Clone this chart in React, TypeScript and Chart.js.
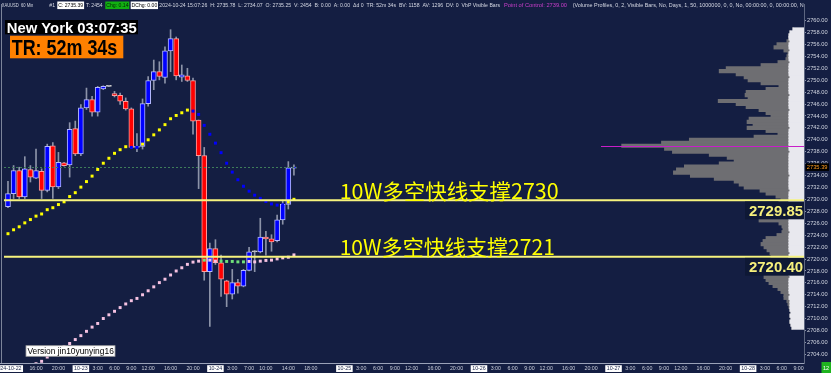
import { useEffect, useRef } from 'react';
import { Chart, registerables } from 'chart.js';

Chart.register(...registerables);

// XAUUSD 60-min candles (bar slot 0 = 2024-10-22 11:00)
const OPEN = [
  2728.77, 2730.98, 2734.85, 2730.43, 2735.02, 2733.58, 2734.69, 2731.53, 2739.0, 2732.09,
  2736.12, 2735.79, 2741.87, 2737.61, 2745.35, 2746.74, 2744.64, 2748.51, 2748.95, 2747.73,
  2747.45, 2746.46, 2745.19, 2738.72, 2738.89, 2746.07, 2749.94, 2751.43, 2750.44, 2754.92,
  2756.96, 2750.5, 2750.72, 2749.94, 2743.31, 2737.34, 2717.88, 2721.75, 2719.38, 2716.34,
  2714.12, 2716.06, 2715.45, 2718.1, 2721.2, 2721.2, 2723.69, 2723.41, 2723.08, 2726.56,
  2729.16, 2735.25,
];
const HIGH = [
  2733.03, 2735.68, 2735.4, 2737.17, 2735.68, 2738.44, 2735.13, 2739.27, 2739.55, 2737.89,
  2736.23, 2742.87, 2743.14, 2745.91, 2748.67, 2747.29, 2748.95, 2749.06, 2749.0, 2748.12,
  2747.84, 2747.02, 2745.35, 2741.04, 2746.85, 2750.61, 2753.37, 2753.09, 2755.58, 2758.46,
  2757.24, 2752.54, 2751.99, 2750.33, 2743.31, 2738.72, 2722.69, 2723.25, 2720.65, 2716.45,
  2718.27, 2716.61, 2718.27, 2721.97, 2721.42, 2726.84, 2724.63, 2724.08, 2727.39, 2729.88,
  2736.34, 2735.78,
];
const LOW = [
  2728.6, 2730.15, 2730.15, 2730.15, 2732.92, 2733.47, 2730.15, 2731.26, 2730.15, 2731.81,
  2735.57, 2733.75, 2737.34, 2737.34, 2745.08, 2743.97, 2743.97, 2748.4, 2748.9, 2747.18,
  2745.91, 2744.97, 2738.55, 2738.0, 2738.44, 2745.63, 2748.4, 2750.05, 2749.5, 2751.43,
  2750.05, 2749.78, 2749.78, 2740.93, 2731.81, 2716.45, 2708.71, 2719.1, 2713.74, 2712.02,
  2713.3, 2714.29, 2715.34, 2717.99, 2717.88, 2721.04, 2720.65, 2721.31, 2722.86, 2725.84,
  2728.39, 2734.07,
];
const CLOSE = [
  2730.98, 2734.85, 2730.43, 2735.13, 2733.75, 2734.85, 2731.53, 2738.89, 2732.09, 2736.23,
  2735.68, 2741.76, 2737.61, 2745.35, 2746.74, 2744.64, 2748.78, 2748.95, 2748.95, 2747.4,
  2746.46, 2745.19, 2738.72, 2738.89, 2746.07, 2749.94, 2751.43, 2750.61, 2754.92, 2756.96,
  2750.72, 2750.88, 2749.94, 2743.14, 2737.34, 2717.88, 2721.75, 2719.38, 2716.61, 2714.12,
  2716.06, 2715.45, 2718.1, 2721.2, 2721.2, 2723.69, 2723.36, 2722.86, 2726.56, 2729.16,
  2735.3, 2735.39,
];

// fast trailing line (one dot per bar); direction 1 = long, -1 = short
const FAST_LINE = [
  2724.25, 2724.91, 2725.41, 2726.07, 2726.62, 2727.2, 2727.56, 2728.28, 2728.61, 2729.14,
  2729.6, 2730.48, 2731.13, 2732.06, 2732.99, 2733.91, 2735.02, 2736.07, 2736.9, 2737.73,
  2738.34, 2738.84, 2738.72, 2738.72, 2739.27, 2740.0, 2740.83, 2741.66, 2742.54, 2743.53,
  2744.08, 2744.53, 2744.98, 2744.81, 2744.25, 2742.42, 2740.93, 2739.44, 2737.84, 2736.07,
  2734.58, 2733.3, 2732.21, 2731.38, 2730.71, 2730.18, 2729.65, 2729.24, 2729.05, 2729.1,
  2729.55, 2730.02,
];
const FAST_DIR = [
  1, 1, 1, 1, 1, 1, 1, 1, 1, 1,
  1, 1, 1, 1, 1, 1, 1, 1, 1, 1,
  1, 1, -1, -1, 1, 1, 1, 1, 1, 1,
  1, 1, 1, -1, -1, -1, -1, -1, -1, -1,
  -1, -1, -1, -1, -1, -1, -1, -1, -1, -1,
  1, 1,
];

// slow line (first bars sit below the visible range); state 1 = pink, 0 = green
const SLOW_LINE = [
  null, null, null, null, null, 2702.45, 2702.85, 2703.57, 2704.18, 2704.76,
  2705.31, 2705.84, 2706.5, 2707.16, 2707.88, 2708.59, 2709.2, 2710.03, 2710.65, 2711.24,
  2711.86, 2712.47, 2713.02, 2713.4, 2714.01, 2714.68, 2715.34, 2716.05, 2716.62, 2717.33,
  2718.0, 2718.54, 2719.11, 2719.49, 2719.65, 2719.82, 2719.82, 2719.65, 2719.65, 2719.6,
  2719.6, 2719.53, 2719.53, 2719.6, 2719.53, 2719.65, 2719.77, 2719.82, 2720.03, 2720.2,
  2720.31, 2720.7,
];
const SLOW_STATE = [
  1, 1, 1, 1, 1, 1, 1, 1, 1, 1,
  1, 1, 1, 1, 1, 1, 1, 1, 1, 1,
  1, 1, 1, 1, 1, 1, 1, 1, 1, 1,
  1, 1, 1, 1, 1, 0, 1, 1, 0, 0,
  0, 0, 0, 1, 1, 1, 1, 1, 1, 1,
  1, 1,
];

const SUPPORT_LEVELS = [2729.85, 2720.4];
const SUPPORT_TEXT = ['10W多空快线支撑2730', '10W多空快线支撑2721'];
const POC_PRICE = 2739.0;

const Y_TICKS = [
  2704, 2706, 2708, 2710, 2712, 2714, 2716, 2718, 2720, 2722, 2724, 2726, 2728, 2730, 2732,
  2734, 2736, 2738, 2740, 2742, 2744, 2746, 2748, 2750, 2752, 2754, 2756, 2758, 2760,
];
const X_TICK_SLOTS = [
  0, 5, 9, 13, 16, 19, 22, 25, 29, 33,
  37, 40, 43, 46, 50, 54,
  60, 63, 66, 69, 72, 76, 80,
  84, 87, 90, 93, 96, 100, 104,
  108, 111, 114, 117, 120, 124, 128,
  132, 135, 138, 141,
];
const X_TICK_TEXT = [
  '2024-10-22', '16:00', '20:00', '10-23', '3:00', '6:00', '9:00', '12:00', '16:00', '20:00',
  '10-24', '3:00', '7:00', '10:00', '14:00', '18:00',
  '10-25', '3:00', '6:00', '9:00', '12:00', '16:00', '20:00',
  '10-26', '3:00', '6:00', '9:00', '12:00', '16:00', '20:00',
  '10-27', '3:00', '6:00', '9:00', '12:00', '16:00', '20:00',
  '10-28', '3:00', '6:00', '9:00',
];

// volume-by-price rows (0.5 steps), top to bottom
const VP_LEVELS = [
  2758.5, 2758, 2757.5, 2757, 2756.5, 2756, 2755.5, 2755, 2754.5, 2754,
  2753.5, 2753, 2752.5, 2752, 2751.5, 2751, 2750.5, 2750, 2749.5, 2749,
  2748.5, 2748, 2747.5, 2747, 2746.5, 2746, 2745.5, 2745, 2744.5, 2744,
  2743.5, 2743, 2742.5, 2742, 2741.5, 2741, 2740.5, 2740, 2739.5, 2739,
  2738.5, 2738, 2737.5, 2737, 2736.5, 2736, 2735.5, 2735, 2734.5, 2734,
  2733.5, 2733, 2732.5, 2732, 2731.5, 2731, 2730.5, 2730, 2729.5, 2729,
  2728.5, 2728, 2727.5, 2727, 2726.5, 2726, 2725.5, 2725, 2724.5, 2724,
  2723.5, 2723, 2722.5, 2722, 2721.5, 2721, 2720.5, 2720, 2719.5, 2719,
  2718.5, 2718, 2717.5, 2717, 2716.5, 2716, 2715.5, 2715, 2714.5, 2714,
  2713.5, 2713, 2712.5, 2712, 2711.5, 2711, 2710.5, 2710, 2709.5, 2709,
  2708.5,
];
const VP_VOLUME = [
  0, 0, 0, 0, 3, 12, 15, 6, 1, 2,
  3, 12, 28, 63, 70, 53, 46, 41, 28, 10,
  23, 43, 45, 41, 71, 53, 43, 31, 23, 18,
  40, 42, 36, 43, 23, 11, 35, 100, 128, 168,
  125, 118, 80, 62, 55, 70, 105, 113, 116, 100,
  75, 55, 50, 45, 30, 23, 13, 8, 10, 12,
  6, 3, 7, 13, 30, 10, 7, 6, 8, 12,
  23, 26, 28, 25, 22, 20, 18, 13, 16, 18,
  20, 22, 24, 26, 23, 20, 16, 11, 8, 6,
  5, 3, 2, 1, 0, 0, 0, 0, 0, 0,
  0,
];
const VP_SESSION = [
  11, 14, 15, 15, 14, 15, 15, 14, 15, 15,
  15, 14, 15, 15, 15, 15, 14, 15, 15, 15,
  15, 15, 14, 15, 15, 15, 15, 14, 15, 15,
  15, 15, 15, 14, 15, 15, 15, 15, 15, 15,
  15, 14, 15, 15, 15, 15, 15, 15, 15, 14,
  15, 15, 15, 15, 14, 15, 15, 15, 15, 15,
  15, 15, 14, 15, 15, 15, 15, 15, 14, 15,
  15, 15, 15, 15, 15, 14, 15, 15, 15, 15,
  15, 15, 15, 14, 15, 15, 15, 15, 15, 14,
  15, 14, 14, 14, 14, 13, 14, 13, 14, 13,
  12,
];
const VP_AXIS_MAX = 804;
const POC_REACH = 204;

const X_MIN = -0.71;
const X_MAX = 141.97;
const Y_MIN = 2702.57;
const Y_MAX = 2762.77;

const BG = '#141e42';
const FONT = '"Liberation Sans", Arial, sans-serif';

function fitText(
  ctx: CanvasRenderingContext2D,
  text: string,
  x: number,
  y: number,
  w: number,
  font: string,
  color: string,
  align: 'left' | 'right' = 'left'
) {
  ctx.save();
  ctx.font = font;
  ctx.textAlign = 'left';
  ctx.textBaseline = 'alphabetic';
  const m = ctx.measureText(text).width || 1;
  const x0 = align === 'left' ? x : x - w;
  ctx.translate(x0, y);
  ctx.scale(w / m, 1);
  ctx.fillStyle = color;
  ctx.fillText(text, 0, 0);
  ctx.restore();
}

const INFO_SEGMENTS = [
  { x: 1.7, w: 31.6, text: 'XAUUSD  60 Min', color: '#d6d9e4' },
  { x: 49.3, w: 5.7, text: '#1', color: '#d6d9e4' },
  { x: 58.3, w: 24.8, text: 'C: 2735.39', color: '#000000', box: '#ffffff', bx: 57.3, bw: 26.8 },
  { x: 86, w: 16.7, text: 'T: 2454', color: '#d6d9e4' },
  { x: 106.2, w: 22.4, text: 'Chg: 0.14', color: '#002800', box: '#12b012', bx: 105.3, bw: 24 },
  { x: 131.6, w: 25.6, text: 'DChg: 0.00', color: '#000000', box: '#ffffff', bx: 130.7, bw: 27.3 },
  {
    x: 159.3,
    w: 340.7,
    text: '2024-10-24 15:07:26  H: 2735.78  L: 2734.07  O: 2735.25  V: 2454  B: 0.00  A: 0.00  Δd 0  TR: 52m 34s  BV: 1158  AV: 1296  DV: 0  VbP Visible Bars',
    color: '#d6d9e4',
  },
  { x: 504, w: 63, text: 'Point of Control: 2739.00', color: '#cc3fcc' },
  {
    x: 572.7,
    w: 231,
    text: '(Volume Profiles, 0, 2, Visible Bars, No, Days, 1, 50, 1000000, 0, 0, No, 00:00:00, 0, 00:00:00, N',
    color: '#d6d9e4',
  },
];

const overlay = {
  id: 'overlay',
  beforeDraw(chart: any) {
    const { ctx, width, height } = chart;
    ctx.save();
    ctx.fillStyle = BG;
    ctx.fillRect(0, 0, width, height);
    ctx.restore();
  },
  afterDatasetsDraw(chart: any) {
    const { ctx, chartArea: a, scales } = chart;
    const { x, y, xv, yv } = scales;
    ctx.save();
    ctx.beginPath();
    ctx.rect(a.left, a.top, a.right - a.left, a.bottom - a.top);
    ctx.clip();

    // point of control
    const pocY = Math.round(yv.getPixelForValue(POC_PRICE)) + 0.5;
    ctx.strokeStyle = '#c81ec8';
    ctx.lineWidth = 1.2;
    ctx.beginPath();
    ctx.moveTo(xv.getPixelForValue(POC_REACH), pocY);
    ctx.lineTo(a.right, pocY);
    ctx.stroke();

    // last price marker line
    const last = CLOSE.length - 1;
    const lpY = Math.round(y.getPixelForValue(CLOSE[last])) + 0.5;
    ctx.setLineDash([2, 2]);
    ctx.strokeStyle = '#3f7d5a';
    ctx.lineWidth = 1;
    ctx.beginPath();
    ctx.moveTo(a.left, lpY);
    ctx.lineTo(x.getPixelForValue(last) + 3, lpY);
    ctx.stroke();
    ctx.setLineDash([]);

    // support lines
    SUPPORT_LEVELS.forEach((lv) => {
      const py = y.getPixelForValue(lv);
      ctx.strokeStyle = '#f7f47e';
      ctx.lineWidth = 2;
      ctx.beginPath();
      ctx.moveTo(a.left, py);
      ctx.lineTo(a.right, py);
      ctx.stroke();
    });
    ctx.restore();
  },
  afterDraw(chart: any) {
    const { ctx, chartArea: a, scales, width, height } = chart;
    const { x, y } = scales;

    // left frame edge and time axis line
    ctx.save();
    ctx.strokeStyle = '#7c849a';
    ctx.lineWidth = 1;
    ctx.beginPath();
    ctx.moveTo(1.5, a.top);
    ctx.lineTo(1.5, a.bottom);
    ctx.stroke();
    ctx.strokeStyle = '#9aa2b8';
    ctx.beginPath();
    ctx.moveTo(0, Math.round(a.bottom) + 0.5);
    ctx.lineTo(a.right, Math.round(a.bottom) + 0.5);
    ctx.stroke();
    ctx.restore();

    // time axis labels
    ctx.save();
    ctx.beginPath();
    ctx.rect(0, a.bottom + 1, a.right + 4, height - a.bottom);
    ctx.clip();
    ctx.font = `5.3px ${FONT}`;
    ctx.textAlign = 'center';
    ctx.textBaseline = 'middle';
    const ly = a.bottom + 5.6;
    X_TICK_SLOTS.forEach((slot, i) => {
      const label = X_TICK_TEXT[i];
      const px = x.getPixelForValue(slot);
      const isDate = label.includes('-');
      if (isDate) {
        const w = ctx.measureText(label).width + 3;
        ctx.fillStyle = '#ffffff';
        ctx.fillRect(px - w / 2, ly - 3.4, w, 6.8);
        ctx.fillStyle = '#1a2346';
      } else {
        ctx.fillStyle = '#c8ccd8';
      }
      ctx.fillText(label, px, ly);
    });
    ctx.restore();

    // support captions and price tags
    const textWidths = [219, 215.3];
    SUPPORT_LEVELS.forEach((lv, i) => {
      const py = y.getPixelForValue(lv);
      fitText(ctx, SUPPORT_TEXT[i], x.getPixelForValue(59.15), py - 1.6, textWidths[i],
        '21px "Noto Sans CJK SC", sans-serif', '#ffff00');
      ctx.save();
      ctx.fillStyle = '#0e1835';
      ctx.fillRect(a.right - 59, py + 1.2, 59, 17.8);
      ctx.restore();
      fitText(ctx, lv.toFixed(2), a.right - 1, py + 15.6, 54, `bold 15px ${FONT}`, '#f6f07c', 'right');
    });

    // header line
    INFO_SEGMENTS.forEach((s: any) => {
      if (s.box) {
        ctx.save();
        ctx.fillStyle = s.box;
        ctx.fillRect(s.bx, 1.5, s.bw, 7.6);
        ctx.restore();
      }
      ctx.save();
      ctx.beginPath();
      ctx.rect(0, 0, a.right, 12);
      ctx.clip();
      fitText(ctx, s.text, s.x, 7.3, s.w, `5.5px ${FONT}`, s.color);
      ctx.restore();
    });

    // clock / time remaining
    ctx.save();
    ctx.fillStyle = '#000000';
    ctx.fillRect(5, 20, 133, 14.3);
    ctx.fillStyle = '#ff8000';
    ctx.fillRect(10, 35.7, 113.3, 22.6);
    ctx.restore();
    fitText(ctx, 'New York 03:07:35', 6.7, 33.2, 130, `bold 14.8px ${FONT}`, '#ffffff');
    fitText(ctx, 'TR: 52m 34s', 11.7, 55, 105.6, `bold 21.5px ${FONT}`, '#000000');

    // version tag
    ctx.save();
    ctx.fillStyle = '#ffffff';
    ctx.fillRect(26, 345.7, 89, 10.6);
    ctx.strokeStyle = '#a0a0a0';
    ctx.lineWidth = 0.8;
    ctx.strokeRect(26, 345.7, 89, 10.6);
    ctx.restore();
    fitText(ctx, 'Version jin10yunying16', 27.4, 353.6, 86.4, `8.5px ${FONT}`, '#000000');

    // last price tag on the axis
    const lpY = y.getPixelForValue(CLOSE[CLOSE.length - 1]);
    ctx.save();
    ctx.fillStyle = '#000000';
    ctx.fillRect(a.right + 1.5, lpY - 4, 23.5, 7.6);
    ctx.restore();
    fitText(ctx, CLOSE[CLOSE.length - 1].toFixed(2), a.right + 2.8, lpY + 2.1, 20.7, `5.7px ${FONT}`, '#ff9d22');

    // bar counter
    ctx.save();
    ctx.fillStyle = '#1fb41f';
    ctx.fillRect(width - 9.5, height - 11, 9.5, 11);
    ctx.restore();
    fitText(ctx, '12', width - 8, height - 3.2, 6.2, `6px ${FONT}`, '#ffffff');
  },
};

export default function App() {
  const ref = useRef<HTMLCanvasElement>(null);

  useEffect(() => {
    const slots = OPEN.map((_, i) => i);
    const bodyFill = slots.map((i) => (CLOSE[i] > OPEN[i] ? '#0000ff' : CLOSE[i] < OPEN[i] ? '#ff0000' : '#c8c8c8'));
    const bodyEdge = slots.map((i) => (CLOSE[i] > OPEN[i] ? '#b4b8ff' : CLOSE[i] < OPEN[i] ? '#ff9c9c' : '#d0d0d0'));

    const chart = new Chart(ref.current as HTMLCanvasElement, {
      type: 'bar',
      data: {
        datasets: [
          {
            type: 'scatter',
            label: 'fast',
            data: FAST_LINE.map((v, i) => ({ x: i, y: v })),
            xAxisID: 'x',
            yAxisID: 'y',
            pointStyle: 'rect',
            pointRadius: 2.1,
            pointBorderWidth: 0,
            pointBackgroundColor: FAST_DIR.map((d) => (d > 0 ? '#ffff00' : '#0000ff')),
            order: 0,
          } as any,
          {
            type: 'scatter',
            label: 'slow',
            data: SLOW_LINE.map((v, i) => ({ x: i, y: v })),
            xAxisID: 'x',
            yAxisID: 'y',
            pointStyle: 'rect',
            pointRadius: 2.1,
            pointBorderWidth: 0,
            pointBackgroundColor: SLOW_STATE.map((s) => (s ? '#f6c2e2' : '#6fe07a')),
            order: 1,
          } as any,
          {
            type: 'bar',
            label: 'body',
            data: slots.map((i) => ({ x: i, y: [OPEN[i], CLOSE[i]] })),
            xAxisID: 'x',
            yAxisID: 'y',
            backgroundColor: bodyFill,
            borderColor: bodyEdge,
            borderWidth: 1,
            borderSkipped: false,
            grouped: false,
            barThickness: 5,
            maxBarThickness: 5,
            minBarLength: 1,
            order: 2,
          } as any,
          {
            type: 'bar',
            label: 'wick',
            data: slots.map((i) => ({ x: i, y: [LOW[i], HIGH[i]] })),
            xAxisID: 'x',
            yAxisID: 'y',
            backgroundColor: '#8c93a8',
            borderWidth: 0,
            grouped: false,
            barThickness: 1,
            maxBarThickness: 1,
            order: 3,
          } as any,
          {
            type: 'bar',
            label: 'session',
            indexAxis: 'y',
            data: VP_LEVELS.map((p, i) => ({ x: VP_SESSION[i], y: p })),
            xAxisID: 'xv',
            yAxisID: 'yv',
            backgroundColor: '#e8e8ee',
            borderWidth: 0,
            inflateAmount: 0.6,
            barPercentage: 1,
            categoryPercentage: 1,
            grouped: false,
            order: 4,
          } as any,
          {
            type: 'bar',
            label: 'volume',
            indexAxis: 'y',
            data: VP_LEVELS.map((p, i) => ({ x: VP_VOLUME[i], y: p })),
            xAxisID: 'xv',
            yAxisID: 'yv',
            backgroundColor: '#6e6e72',
            borderWidth: 0,
            inflateAmount: 0.6,
            barPercentage: 1,
            categoryPercentage: 1,
            grouped: false,
            order: 4,
          } as any,
        ],
      },
      options: {
        responsive: false,
        maintainAspectRatio: false,
        animation: false,
        devicePixelRatio: 1,
        events: [],
        layout: { padding: 0 },
        plugins: { legend: { display: false }, tooltip: { enabled: false }, title: { display: false } },
        scales: {
          x: {
            type: 'linear',
            position: 'bottom',
            min: X_MIN,
            max: X_MAX,
            offset: false,
            grid: { display: false },
            border: { display: false },
            ticks: { display: false },
            afterFit: (ax: any) => {
              ax.height = 10;
              ax.paddingLeft = 0;
              ax.paddingRight = 0;
            },
          } as any,
          y: {
            type: 'linear',
            position: 'right',
            min: Y_MIN,
            max: Y_MAX,
            grid: { display: true, drawOnChartArea: false, drawTicks: true, tickLength: 2, color: '#8890a8' },
            border: { display: true, color: '#5d6680', width: 1 },
            afterBuildTicks: (ax: any) => {
              ax.ticks = Y_TICKS.map((v) => ({ value: v }));
            },
            afterFit: (ax: any) => {
              ax.width = 27;
              ax.paddingTop = 0;
              ax.paddingBottom = 0;
            },
            ticks: {
              padding: 1,
              font: { family: FONT, size: 5.7 },
              color: '#d0d4e0',
              callback: (v: any) => Number(v).toFixed(2),
            },
          } as any,
          xv: {
            type: 'linear',
            axis: 'x',
            display: false,
            reverse: true,
            min: 0,
            max: VP_AXIS_MAX,
            stacked: true,
            offset: false,
          } as any,
          yv: {
            type: 'linear',
            axis: 'y',
            display: false,
            min: Y_MIN,
            max: Y_MAX,
            offset: false,
          } as any,
        },
      },
      plugins: [overlay],
    } as any);
    return () => chart.destroy();
  }, []);

  return (
    <div style={{ position: 'fixed', left: 0, top: 0, width: 831, height: 373, background: BG }}>
      <canvas ref={ref} width={831} height={373} style={{ display: 'block', width: 831, height: 373 }} />
    </div>
  );
}
